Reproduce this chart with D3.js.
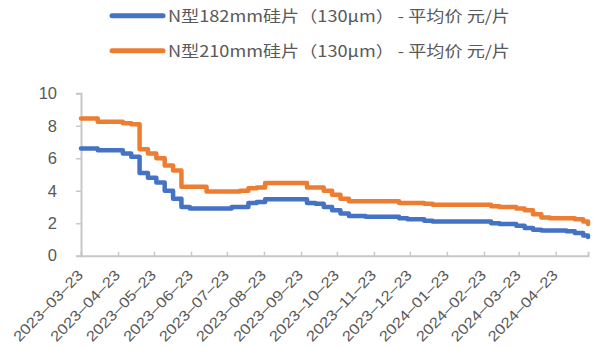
<!DOCTYPE html>
<html>
<head>
<meta charset="utf-8">
<script src="https://cdn.jsdelivr.net/npm/d3@7"></script>
<style>
  html, body { margin: 0; padding: 0; background: #fff; }
  svg { display: block; }
</style>
</head>
<body>
<svg id="chart" width="596" height="347"></svg>
<script>
// Weekly price observations
const dates = [
  "2023-03-23","2023-03-30","2023-04-06","2023-04-13","2023-04-20","2023-04-27",
  "2023-05-04","2023-05-11","2023-05-18","2023-05-25","2023-06-01","2023-06-08",
  "2023-06-15","2023-06-22","2023-06-29","2023-07-06","2023-07-13","2023-07-20",
  "2023-07-27","2023-08-03","2023-08-10","2023-08-17","2023-08-24","2023-08-31",
  "2023-09-07","2023-09-14","2023-09-21","2023-09-28","2023-10-05","2023-10-12",
  "2023-10-19","2023-10-26","2023-11-02","2023-11-09","2023-11-16","2023-11-23",
  "2023-11-30","2023-12-07","2023-12-14","2023-12-21","2023-12-28","2024-01-04",
  "2024-01-11","2024-01-18","2024-01-25","2024-02-01","2024-02-08","2024-02-15",
  "2024-02-22","2024-02-29","2024-03-07","2024-03-14","2024-03-21","2024-03-28",
  "2024-04-04","2024-04-11","2024-04-18","2024-04-25","2024-05-02","2024-05-09",
  "2024-05-16","2024-05-20"
];

// N型182mm硅片 average price (元/片), each value holds until the next date
const price182 = [
  6.6, 6.6, 6.5, 6.5, 6.5, 6.3,
  6.1, 5.1, 4.8, 4.5, 4.0, 3.5,
  3.0, 2.9, 2.9, 2.9, 2.9, 2.9,
  3.0, 3.0, 3.25, 3.3, 3.47, 3.47,
  3.47, 3.47, 3.47, 3.25, 3.2, 3.0,
  2.8, 2.6, 2.45, 2.45, 2.4, 2.4,
  2.4, 2.4, 2.3, 2.25, 2.25, 2.15,
  2.1, 2.1, 2.1, 2.1, 2.1, 2.1,
  2.1, 2.0, 1.95, 1.95, 1.85, 1.7,
  1.6, 1.55, 1.55, 1.55, 1.5, 1.4,
  1.25, 1.15
];

// N型210mm硅片 average price (元/片), each value holds until the next date
const price210 = [
  8.45, 8.45, 8.25, 8.25, 8.25, 8.15,
  8.1, 6.55, 6.3, 6.0, 5.55, 5.25,
  4.25, 4.25, 4.25, 3.95, 3.95, 3.95,
  3.95, 4.0, 4.15, 4.2, 4.47, 4.47,
  4.47, 4.47, 4.47, 4.2, 4.2, 4.0,
  3.75, 3.5, 3.35, 3.35, 3.35, 3.35,
  3.35, 3.35, 3.25, 3.25, 3.25, 3.2,
  3.13, 3.13, 3.13, 3.13, 3.13, 3.13,
  3.13, 3.05, 3.0, 3.0, 2.9, 2.8,
  2.55, 2.35, 2.3, 2.3, 2.3, 2.25,
  2.1, 1.95
];

const seriesNames = [
  "N型182mm硅片（130μm） - 平均价 元/片",
  "N型210mm硅片（130μm） - 平均价 元/片"
];
const seriesColors = ["#4472C4", "#ED7D31"];

const xTickLabels = [
  "2023-03-23","2023-04-23","2023-05-23","2023-06-23","2023-07-23","2023-08-23",
  "2023-09-23","2023-10-23","2023-11-23","2023-12-23","2024-01-23","2024-02-23",
  "2024-03-23","2024-04-23"
];
const yTicks = [0, 2, 4, 6, 8, 10];

const parse = d3.timeParse("%Y-%m-%d");
const svg = d3.select("#chart");

const plot = { left: 81, right: 588, top: 93.3, bottom: 255.7 };

const x = d3.scaleTime()
  .domain([parse(dates[0]), parse(dates[dates.length - 1])])
  .range([plot.left, plot.right]);
const y = d3.scaleLinear().domain([0, 10]).range([plot.bottom, plot.top]);

const axisColor = "#C8C8C8";
const textColor = "#595959";

// Y axis
const yAxis = svg.append("g")
  .attr("transform", `translate(${plot.left},0)`)
  .call(d3.axisLeft(y).tickValues(yTicks).tickSize(5).tickPadding(19).tickFormat(d3.format("d")));
yAxis.select(".domain").attr("stroke", axisColor).attr("stroke-width", 2);
yAxis.selectAll(".tick line").attr("stroke", axisColor).attr("stroke-width", 1.5);
yAxis.selectAll(".tick text")
  .attr("fill", textColor)
  .style("font-family", "'Liberation Sans', Arial, sans-serif")
  .style("font-size", "16.5px");

// X axis with inward ticks
const xAxis = svg.append("g")
  .attr("transform", `translate(0,${plot.bottom})`)
  .call(d3.axisBottom(x).tickValues(xTickLabels.map(parse)).tickSize(-4).tickFormat(""));
xAxis.select(".domain").attr("stroke", axisColor).attr("stroke-width", 2);
xAxis.selectAll(".tick line").attr("stroke", axisColor).attr("stroke-width", 1.5);

svg.append("g").selectAll("text")
  .data(xTickLabels)
  .join("text")
  .attr("transform", d => `translate(${x(parse(d)) + 3},${plot.bottom + 20}) rotate(-46)`)
  .attr("text-anchor", "end")
  .attr("fill", textColor)
  .style("font-family", "'Liberation Sans', Arial, sans-serif")
  .style("font-size", "14.5px")
  .attr("textLength", 93)
  .attr("lengthAdjust", "spacingAndGlyphs")
  .text(d => d.replace(/-/g, "–"));

// Price lines: values step at each weekly update
const line = d3.line()
  .x((d, i) => x(parse(dates[i])))
  .y(d => y(d))
  .curve(d3.curveStepAfter);

[price182, price210].forEach((vals, i) => {
  svg.append("path")
    .datum(vals)
    .attr("fill", "none")
    .attr("stroke", seriesColors[i])
    .attr("stroke-width", 4.5)
    .attr("stroke-linejoin", "round")
    .attr("stroke-linecap", "round")
    .attr("d", line);
});

// Legend
const legendRows = [15.7, 50.7];
const legend = svg.append("g");
seriesNames.forEach((name, i) => {
  const ly = legendRows[i];
  legend.append("line")
    .attr("x1", 112).attr("x2", 163)
    .attr("y1", ly).attr("y2", ly)
    .attr("stroke", seriesColors[i])
    .attr("stroke-width", 5)
    .attr("stroke-linecap", "round");
  legend.append("text")
    .attr("x", 168)
    .attr("y", ly + 6)
    .attr("fill", textColor)
    .style("font-family", "'Noto Sans CJK SC', sans-serif")
    .style("font-size", "15.5px")
    .attr("textLength", 342)
    .attr("lengthAdjust", "spacingAndGlyphs")
    .text(name);
});
</script>
</body>
</html>
